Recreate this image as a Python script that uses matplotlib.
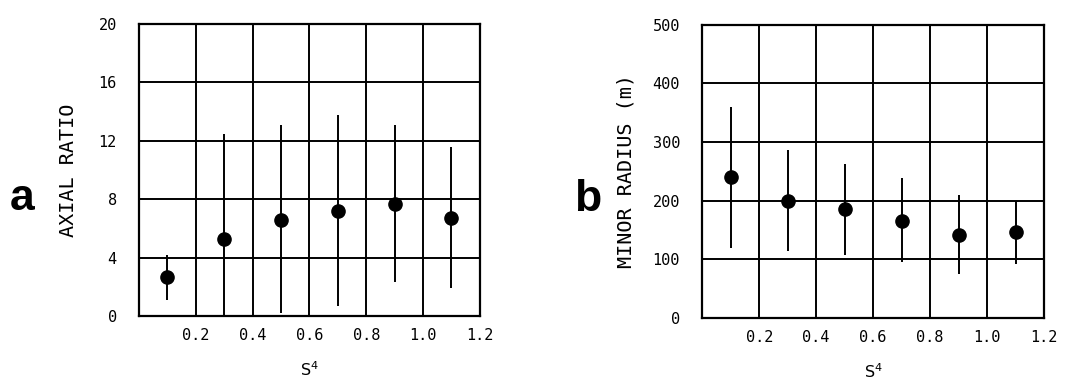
import matplotlib
matplotlib.use("Agg")
import matplotlib.pyplot as plt

# Data
s4 = [0.1, 0.3, 0.5, 0.7, 0.9, 1.1]
axial_ratio = [2.65, 5.3, 6.6, 7.2, 7.7, 6.7]
axial_lo = [1.1, 0.0, 0.2, 0.65, 2.35, 1.95]
axial_hi = [4.2, 12.5, 13.1, 13.8, 13.1, 11.6]

minor_radius = [240, 200, 185, 166, 142, 146]
radius_lo = [119, 115, 108, 96, 75, 92]
radius_hi = [360, 286, 262, 238, 209, 200]

xticks = [0.2, 0.4, 0.6, 0.8, 1.0, 1.2]
xticklabels = ["0.2", "0.4", "0.6", "0.8", "1.0", "1.2"]
a_yticks = [0, 4, 8, 12, 16, 20]
b_yticks = [0, 100, 200, 300, 400, 500]

mono = "DejaVu Sans Mono"

fig = plt.figure(figsize=(10.77, 3.83), dpi=100)
ax_a = fig.add_axes([0.129, 0.175, 0.3166, 0.762])
ax_b = fig.add_axes([0.652, 0.170, 0.3175, 0.765])


def draw(ax, y, lo, hi, yticks, ylabel, ymax, ylsize, ylpad):
    ax.set_xlim(0, 1.2)
    ax.set_ylim(0, ymax)
    ax.set_xticks(xticks)
    ax.set_xticklabels(xticklabels, fontfamily=mono, fontsize=11)
    ax.set_yticks(yticks)
    ax.set_yticklabels([str(t) for t in yticks], fontfamily=mono, fontsize=11)
    ax.tick_params(length=0, pad=9)
    ax.tick_params(axis="y", pad=16)
    ax.grid(True, color="black", linewidth=1.4)
    ax.set_axisbelow(True)
    for sp in ax.spines.values():
        sp.set_linewidth(1.6)
        sp.set_color("black")
    yerr = [[v - l for v, l in zip(y, lo)], [h - v for v, h in zip(y, hi)]]
    ax.errorbar(s4, y, yerr=yerr, fmt="o", color="black", markersize=9.5,
                elinewidth=1.4, capsize=0, zorder=5)
    ax.set_ylabel(ylabel, fontfamily=mono, fontsize=ylsize, labelpad=ylpad)
    ax.set_xlabel("S$^{4}$", fontsize=11.5, labelpad=12)


draw(ax_a, axial_ratio, axial_lo, axial_hi, a_yticks, "AXIAL RATIO", 20, 14.5, 15)
draw(ax_b, minor_radius, radius_lo, radius_hi, b_yticks, "MINOR RADIUS (m)", 500, 14.5, 12)

fig.text(22 / 1077, 1 - 198 / 383, "a", fontsize=32, fontweight="bold",
         family="Liberation Sans", ha="center", va="center")
fig.text(588 / 1077, 1 - 199 / 383, "b", fontsize=32, fontweight="bold",
         family="Liberation Sans", ha="center", va="center")

fig.savefig("out.png", dpi=100)
